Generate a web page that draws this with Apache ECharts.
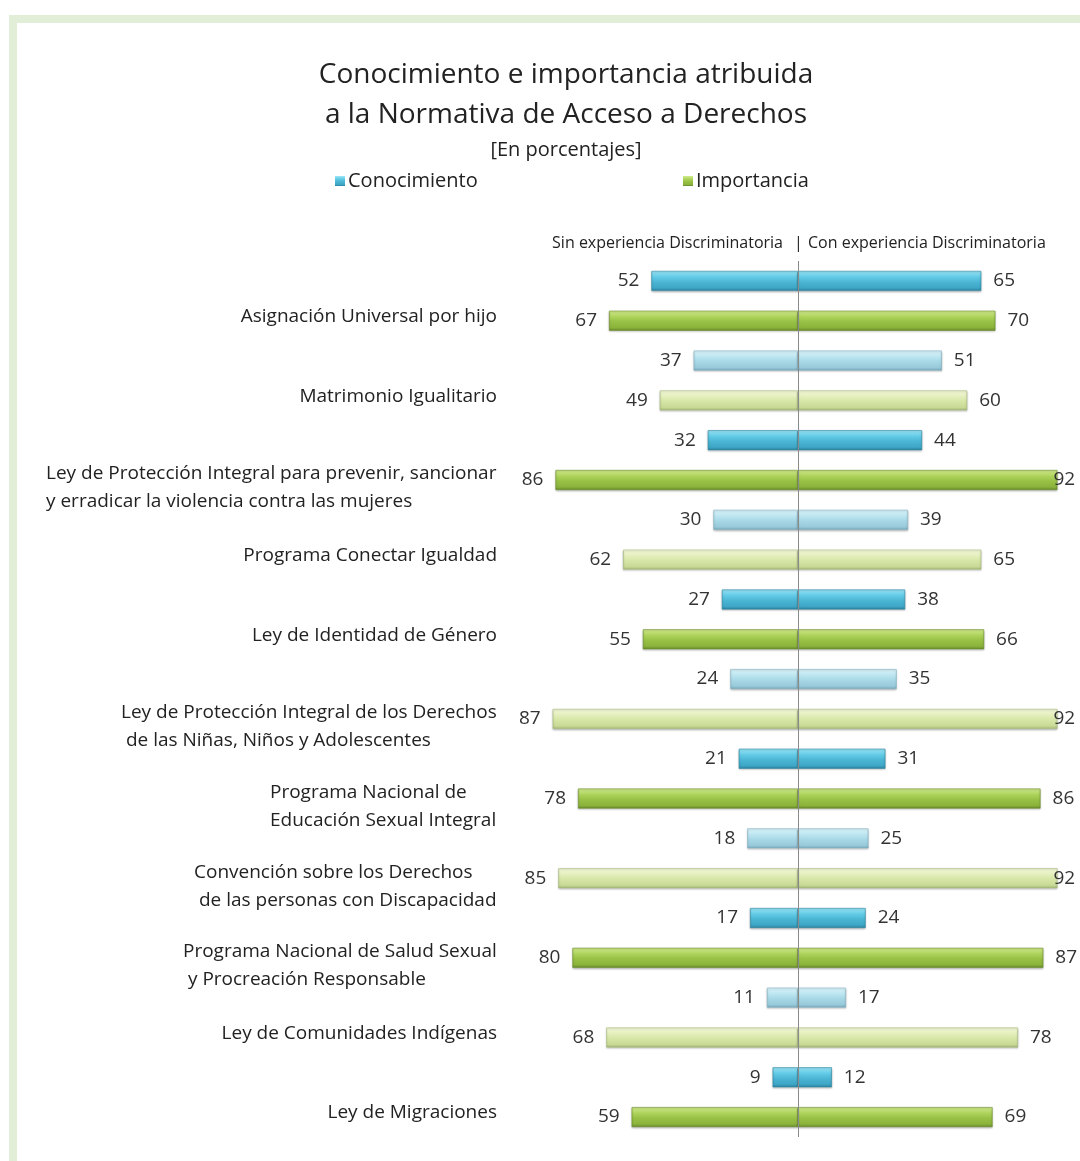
<!DOCTYPE html>
<html>
<head>
<meta charset="utf-8">
<script src="https://cdn.jsdelivr.net/npm/echarts@6/dist/echarts.min.js"></script>
<style>
html,body{margin:0;padding:0;background:#fff;}
#frame{position:absolute;left:9px;top:15px;width:1071px;height:1146px;background:#e3eed8;}
#chart{position:absolute;left:17px;top:23px;width:1063px;height:1138px;background:#fff;}
</style>
</head>
<body>
<div id="frame"></div>
<div id="chart"></div>
<script>
// ---------------- data ----------------
const titleLines = ['Conocimiento e importancia atribuida', 'a la Normativa de Acceso a Derechos'];
const subtitle = '[En porcentajes]';
const seriesNames = ['Conocimiento', 'Importancia'];
const sideHeadings = ['Sin experiencia Discriminatoria', '|', 'Con experiencia Discriminatoria'];
const laws = [
  'Asignación Universal por hijo',
  'Matrimonio Igualitario',
  'Ley de Protección Integral para prevenir, sancionar\ny erradicar la violencia contra las mujeres',
  'Programa Conectar Igualdad',
  'Ley de Identidad de Género',
  'Ley de Protección Integral de los Derechos\n de las Niñas, Niños y Adolescentes',
  'Programa Nacional de\nEducación Sexual Integral',
  'Convención sobre los Derechos\n de las personas con Discapacidad',
  'Programa Nacional de Salud Sexual\n y Procreación Responsable',
  'Ley de Comunidades Indígenas',
  'Ley de Migraciones'
];
const conocSin = [52, 37, 32, 30, 27, 24, 21, 18, 17, 11, 9];
const conocCon = [65, 51, 44, 39, 38, 35, 31, 25, 24, 17, 12];
const impSin   = [67, 49, 86, 62, 55, 87, 78, 85, 80, 68, 59];
const impCon   = [70, 60, 92, 65, 66, 92, 86, 92, 87, 78, 69];

// ---------------- styles ----------------
const FONT = 'Open Sans';
const CAT_SIZE = 19;
function grad(stops) {
  return new echarts.graphic.LinearGradient(0, 0, 0, 1, stops.map((c, i) => ({offset: [0, 0.3, 0.55, 0.85, 1][i], color: c})));
}
const pal = {
  blueDark:   grad(['#9be6f7', '#63cbe6', '#4cb6d5', '#3ea6c6', '#2b819d']),
  blueLight:  grad(['#dcf5fb', '#bde6f1', '#a8d8e6', '#98cadb', '#76a9bb']),
  greenDark:  grad(['#d2eb8e', '#aed35c', '#98c146', '#8bb33b', '#66882a']),
  greenLight: grad(['#f4f9dc', '#e4efbd', '#d6e6a6', '#c9da96', '#a3b775'])
};
const borders = {blueDark:'#2f8aa6', blueLight:'#86b6c6', greenDark:'#6c8f2c', greenLight:'#aabd7e'};

// ---------------- build ----------------
const cats = [];
laws.forEach((l, i) => { cats.push('k' + i); cats.push('i' + i); });

const measure = (() => {
  const c = document.createElement('canvas').getContext('2d');
  c.font = CAT_SIZE + 'px "' + FONT + '"';
  return t => c.measureText(t).width;
})();

const baseTok = { fontSize: CAT_SIZE, fontFamily: FONT, color: '#222', lineHeight: 28 };
const rich = {
  s: Object.assign({}, baseTok, { padding: [0, 0, 8, 0] }),
  sp: Object.assign({}, baseTok, { lineHeight: 16, height: 16, fontSize: 2 })
};
const labelText = {};
laws.forEach((l, i) => {
  const lines = l.split('\n');
  if (lines.length === 1) {
    labelText['i' + i] = '{s|' + l + '}';
  } else {
    const w = Math.ceil(Math.max(...lines.map(measure)));
    rich['a' + i] = Object.assign({}, baseTok, { width: w, align: 'left', height: 28 });
    labelText['i' + i] = '{sp| }\n{a' + i + '|' + lines[0] + '}\n{a' + i + '|' + lines[1] + '}';
  }
});

function rowData(vals, isImp, sign) {
  const out = [];
  vals.forEach((v, i) => {
    const light = i % 2 === 1;
    const key = (isImp ? 'green' : 'blue') + (light ? 'Light' : 'Dark');
    const item = {
      value: sign * v,
      itemStyle: { color: pal[key], borderColor: borders[key], borderWidth: 0.6 }
    };
    if (sign > 0 && v >= 90) item.label = { offset: [-16, 0] };
    if (isImp) { out.push('-'); out.push(item); } else { out.push(item); out.push('-'); }
  });
  return out;
}

function mkSeries(name, vals, isImp, sign) {
  return {
    name: name,
    type: 'bar',
    barWidth: 20,
    barGap: '-100%',
    data: rowData(vals, isImp, sign),
    itemStyle: { color: isImp ? pal.greenDark : pal.blueDark, shadowColor: 'rgba(0,0,0,0.25)', shadowBlur: 2, shadowOffsetY: 1 },
    label: {
      show: true,
      position: sign < 0 ? 'left' : 'right',
      distance: 12,
      fontFamily: FONT,
      fontSize: 19,
      color: '#333',
      formatter: p => Math.abs(p.value)
    },
    emphasis: { disabled: true },
    animation: false
  };
}

const series = [
  mkSeries(seriesNames[0], conocSin, false, -1),
  mkSeries(seriesNames[0], conocCon, false, 1),
  mkSeries(seriesNames[1], impSin, true, -1),
  mkSeries(seriesNames[1], impCon, true, 1)
];
series[3].markLine = {
  silent: true,
  symbol: 'none',
  label: { show: false },
  lineStyle: { color: '#8a8a8a', width: 1, type: 'solid' },
  data: [{ xAxis: 0 }],
  animation: false
};

const chart = echarts.init(document.getElementById('chart'));
chart.setOption({
  animation: false,
  title: [
    { text: titleLines.join('\n'), left: 544, top: 27, textAlign: 'center',
      textStyle: { fontFamily: FONT, fontSize: 28, fontWeight: 'normal', color: '#222', lineHeight: 40 } },
    { text: subtitle, left: 544, top: 112, textAlign: 'center',
      textStyle: { fontFamily: FONT, fontSize: 20, fontWeight: 'normal', color: '#222' } }
  ],
  legend: [
    { data: [seriesNames[0]], left: 318, top: 148, padding: 0, icon: 'rect', itemWidth: 10, itemHeight: 10, itemGap: 5,
      textStyle: { fontFamily: FONT, fontSize: 20, color: '#222', padding: [0, 0, 0, -2] }, selectedMode: false },
    { data: [seriesNames[1]], left: 666, top: 148, padding: 0, icon: 'rect', itemWidth: 10, itemHeight: 10, itemGap: 5,
      textStyle: { fontFamily: FONT, fontSize: 20, color: '#222', padding: [0, 0, 0, -2] }, selectedMode: false }
  ],
  graphic: [
    { type: 'text', right: 1063 - 766, top: 212, style: { text: sideHeadings[0], font: '16px "' + FONT + '"', fill: '#222' } },
    { type: 'text', left: 777, top: 212, style: { text: sideHeadings[1], font: '16px "' + FONT + '"', fill: '#222' } },
    { type: 'text', left: 791, top: 212, style: { text: sideHeadings[2], font: '16px "' + FONT + '"', fill: '#222' } }
  ],
  grid: { left: 499, width: 564, top: 238, height: 876 },
  xAxis: {
    type: 'value', min: -100, max: 100, show: false
  },
  yAxis: {
    type: 'category',
    inverse: true,
    data: cats,
    axisLine: { show: false },
    axisTick: { show: false },
    splitLine: { show: false },
    axisLabel: {
      margin: 19,
      interval: 0,
      lineHeight: 28,
      fontFamily: FONT,
      fontSize: CAT_SIZE,
      formatter: v => labelText[v] || '',
      rich: rich
    }
  },
  series: series
});
</script>
</body>
</html>
